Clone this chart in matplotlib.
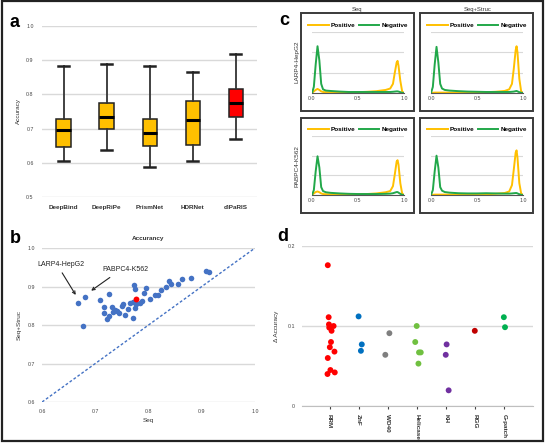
import matplotlib
matplotlib.use("Agg")
import matplotlib.pyplot as plt
from matplotlib.patches import Rectangle
from matplotlib.ticker import FormatStrFormatter

plt.rcParams['font.family'] = ['Liberation Sans', 'DejaVu Sans']

# ---- panel a: box stats ----
models = ['DeepBind', 'DeepRiPe', 'PrismNet', 'HDRNet', 'diPaRIS']
whis_hi = [0.883, 0.888, 0.882, 0.866, 0.918]
q3 = [0.727, 0.775, 0.729, 0.780, 0.817]
med = [0.696, 0.735, 0.688, 0.724, 0.776]
q1 = [0.647, 0.700, 0.648, 0.653, 0.735]
whis_lo = [0.604, 0.637, 0.588, 0.605, 0.670]
box_colors = ['#FFC000', '#FFC000', '#FFC000', '#FFC000', '#FF0000']

# ---- panel b: Seq vs Seq+Struc accuracy ----
seq_acc = [0.668, 0.681, 0.676, 0.709, 0.716, 0.716, 0.726, 0.722, 0.725, 0.732,
           0.734, 0.737, 0.741, 0.745, 0.750, 0.752, 0.755, 0.762, 0.765, 0.770,
           0.772, 0.774, 0.771, 0.774, 0.777, 0.784, 0.787, 0.791, 0.796, 0.803,
           0.812, 0.817, 0.824, 0.833, 0.838, 0.843, 0.855, 0.863, 0.879, 0.908,
           0.914]
struc_acc = [0.857, 0.874, 0.798, 0.865, 0.848, 0.831, 0.880, 0.816, 0.824, 0.848,
             0.833, 0.840, 0.836, 0.831, 0.850, 0.855, 0.825, 0.842, 0.856, 0.859,
             0.904, 0.894, 0.817, 0.843, 0.855, 0.857, 0.862, 0.883, 0.895, 0.868,
             0.878, 0.878, 0.890, 0.898, 0.914, 0.907, 0.906, 0.919, 0.922, 0.940,
             0.937]
dipa_seq, dipa_struc = 0.776, 0.868

# ---- panel c: score densities ----
dens_x = [0.0, 0.02, 0.04, 0.06, 0.08, 0.10, 0.12, 0.15, 0.2, 0.3, 0.4, 0.5,
          0.6, 0.7, 0.8, 0.85, 0.88, 0.90, 0.92, 0.93, 0.94, 0.96, 0.98, 1.0]
larp_seq_neg = [0, 0.3, 1.4, 2.3, 1.6, 0.45, 0.18, 0.12, 0.1, 0.07, 0.05, 0.05,
                0.05, 0.05, 0.05, 0.05, 0.06, 0.07, 0.08, 0.08, 0.07, 0.04, 0.01, 0]
larp_seq_pos = [0, 0.08, 0.15, 0.2, 0.15, 0.08, 0.05, 0.04, 0.03, 0.03, 0.03, 0.04,
                0.06, 0.09, 0.15, 0.22, 0.45, 1.0, 1.5, 1.58, 1.35, 0.6, 0.08, 0]
larp_str_neg = [0, 0.3, 1.4, 2.27, 1.5, 0.45, 0.22, 0.15, 0.12, 0.09, 0.07, 0.06,
                0.05, 0.05, 0.05, 0.05, 0.06, 0.07, 0.09, 0.1, 0.08, 0.04, 0.01, 0]
larp_str_pos = [0, 0.01, 0.02, 0.02, 0.02, 0.02, 0.02, 0.02, 0.02, 0.02, 0.03, 0.03,
                0.04, 0.06, 0.1, 0.18, 0.45, 1.2, 2.1, 2.3, 2.0, 0.7, 0.08, 0]
pab_seq_neg = [0, 0.25, 1.2, 1.97, 1.4, 0.4, 0.2, 0.14, 0.11, 0.08, 0.06, 0.05,
               0.05, 0.05, 0.06, 0.07, 0.09, 0.12, 0.15, 0.15, 0.12, 0.06, 0.01, 0]
pab_seq_pos = [0, 0.08, 0.15, 0.18, 0.14, 0.08, 0.05, 0.04, 0.03, 0.03, 0.03, 0.04,
               0.05, 0.08, 0.14, 0.2, 0.45, 1.05, 1.7, 1.77, 1.55, 0.6, 0.08, 0]
pab_str_neg = [0, 0.25, 1.2, 2.0, 1.4, 0.4, 0.22, 0.15, 0.12, 0.09, 0.08, 0.08,
               0.09, 0.08, 0.07, 0.07, 0.08, 0.09, 0.1, 0.1, 0.08, 0.04, 0.01, 0]
pab_str_pos = [0, 0.01, 0.02, 0.02, 0.02, 0.02, 0.02, 0.02, 0.02, 0.02, 0.03, 0.03,
               0.04, 0.06, 0.1, 0.18, 0.5, 1.3, 2.15, 2.27, 1.9, 0.6, 0.08, 0]

# ---- panel d: delta accuracy by domain ----
domains = ['RRM', 'ZnF', 'WD40', 'Helicase', 'KH', 'RGG', 'G-patch']
dom_colors = ['#FF0000', '#0070C0', '#7F7F7F', '#70C040', '#7030A0', '#C00000', '#00B050']
dom_idx = [0] * 13 + [1] * 3 + [2] * 2 + [3] * 5 + [4] * 3 + [5] + [6] * 2
dom_jit = [-0.06, -0.03, -0.02, 0.14, -0.01, 0.07, 0.05, 0.01, 0.17, -0.06, 0.03, 0.18, -0.07,
           0.0, 0.11, 0.08,
           0.06, -0.08,
           0.0, -0.05, 0.08, 0.14, 0.06,
           0.03, 0.0, 0.10,
           0.0,
           0.0, 0.04]
dom_delta = [0.176, 0.111, 0.102, 0.100, 0.098, 0.094, 0.080, 0.0735, 0.068, 0.060, 0.045, 0.042, 0.040,
             0.112, 0.077, 0.069,
             0.091, 0.064,
             0.100, 0.080, 0.067, 0.067, 0.053,
             0.077, 0.064, 0.0196,
             0.094,
             0.111, 0.0985]

fig = plt.figure(figsize=(5.46, 4.45), dpi=100)
fig.add_artist(Rectangle((0.004, 0.009), 0.99, 0.988, transform=fig.transFigure,
                         fill=False, lw=1.6, ec='#222222'))

grid_c = '#D9D9D9'
tick_fs = 3.8

# panel a
ax = fig.add_axes([0.077, 0.557, 0.394, 0.385])
stats = []
for i in range(len(models)):
    stats.append(dict(med=med[i], q1=q1[i], q3=q3[i], whislo=whis_lo[i],
                      whishi=whis_hi[i], fliers=[]))
bp = ax.bxp(stats, positions=range(1, 6), widths=0.33, capwidths=0.27,
            patch_artist=True, showfliers=False,
            boxprops=dict(lw=1.1, ec='#222222'),
            whiskerprops=dict(lw=1.3, color='#333333'),
            capprops=dict(lw=1.8, color='#222222'),
            medianprops=dict(lw=2.2, color='black'))
for patch, c in zip(bp['boxes'], box_colors):
    patch.set_facecolor(c)
ax.set_xlim(0.5, 5.5)
ax.set_ylim(0.5, 1.0)
ax.set_yticks([0.5, 0.6, 0.7, 0.8, 0.9, 1.0])
ax.yaxis.set_major_formatter(FormatStrFormatter('%.1f'))
ax.grid(axis='y', color=grid_c, lw=1)
ax.set_axisbelow(True)
for s in ax.spines.values():
    s.set_visible(False)
ax.tick_params(length=0, labelsize=tick_fs, colors='#444444', pad=6)
ax.set_xticks(range(1, 6))
ax.set_xticklabels(models, fontsize=4.6, fontweight='bold', color='#333333')
ax.set_ylabel('Accuracy', fontsize=4.6, color='#333333', labelpad=4)
fig.text(0.018, 0.95, 'a', fontsize=13, fontweight='bold', va='center')

# panel b
ax = fig.add_axes([0.077, 0.0966, 0.390, 0.346])
ax.plot([0.6, 1.0], [0.6, 1.0], ls=(0, (2, 1.5)), color='#4472C4', lw=1)
ax.scatter(seq_acc, struc_acc, s=16, color='#4472C4', zorder=3, lw=0)
ax.scatter([dipa_seq], [dipa_struc], s=18, color='#FF0000', zorder=4, lw=0)
ax.set_xlim(0.6, 1.0)
ax.set_ylim(0.6, 1.0)
ax.set_xticks([0.6, 0.7, 0.8, 0.9, 1.0])
ax.set_yticks([0.6, 0.7, 0.8, 0.9, 1.0])
ax.xaxis.set_major_formatter(FormatStrFormatter('%.1f'))
ax.yaxis.set_major_formatter(FormatStrFormatter('%.1f'))
ax.grid(axis='y', color=grid_c, lw=1)
ax.set_axisbelow(True)
for s in ax.spines.values():
    s.set_visible(False)
ax.tick_params(length=0, labelsize=tick_fs, colors='#444444', pad=5)
ax.set_xlabel('Seq', fontsize=4.6, color='#333333', labelpad=3)
ax.set_ylabel('Seq+Struc', fontsize=4.6, color='#333333', labelpad=4)
ax.set_title('Accurancy', fontsize=4.6, fontweight='bold', color='#333333', pad=6)
ax.annotate('LARP4-HepG2', xy=(0.666, 0.872), xytext=(0.592, 0.958),
            fontsize=5, color='#222222', ha='left', va='center',
            annotation_clip=False,
            arrowprops=dict(arrowstyle='->', color='#222222', lw=0.8,
                            shrinkA=2, relpos=(0.45, 0.0)))
ax.annotate('PABPC4-K562', xy=(0.688, 0.885), xytext=(0.713, 0.944),
            fontsize=5, color='#222222', ha='left', va='center',
            arrowprops=dict(arrowstyle='->', color='#222222', lw=0.8,
                            shrinkA=2, relpos=(0.3, 0.0)))
fig.text(0.018, 0.465, 'b', fontsize=13, fontweight='bold', va='center')

# panel c
yel, grn = '#FFC000', '#22A84A'
curves = [[larp_seq_pos, larp_seq_neg], [larp_str_pos, larp_str_neg],
          [pab_seq_pos, pab_seq_neg], [pab_str_pos, pab_str_neg]]
box_x = [301, 420]
box_y = [13, 118]
box_h = [98, 95]
inner_x = [312, 431]
inner_base = [93, 195]
inner_h = [61, 59]
k = 0
for r in range(2):
    for c in range(2):
        x0, y0 = box_x[c], box_y[r]
        fig.add_artist(Rectangle((x0 / 546, 1 - (y0 + box_h[r]) / 445), 113 / 546,
                                 box_h[r] / 445, transform=fig.transFigure,
                                 fill=False, lw=1.4, ec='#3A3A3A'))
        ax = fig.add_axes([inner_x[c] / 546, 1 - inner_base[r] / 445, 92 / 546,
                           inner_h[r] / 445])
        pos, neg = curves[k]
        ax.plot(dens_x, pos, color=yel, lw=1.4, label='Positive')
        ax.plot(dens_x, neg, color=grn, lw=1.4, label='Negative')
        ax.set_xlim(0, 1)
        ax.set_ylim(0, 3)
        ax.set_yticks([1, 2, 3])
        ax.set_yticklabels([])
        ax.set_xticks([0, 0.5, 1.0])
        ax.xaxis.set_major_formatter(FormatStrFormatter('%.1f'))
        ax.grid(axis='y', color=grid_c, lw=0.8)
        ax.set_axisbelow(True)
        for s in ['top', 'right', 'left']:
            ax.spines[s].set_visible(False)
        ax.spines['bottom'].set_color('#555555')
        ax.spines['bottom'].set_linewidth(0.8)
        ax.tick_params(length=0, labelsize=tick_fs, colors='#444444', pad=2)
        ax.legend(loc='lower center', bbox_to_anchor=(0.5, 1.02), ncol=2,
                  frameon=False, handlelength=3.2, columnspacing=0.6,
                  handletextpad=0.3, borderaxespad=0,
                  prop=dict(size=4.6, weight='bold'))
        k += 1
fig.text(357 / 546, 1 - 10 / 445, 'Seq', fontsize=4.2, ha='center', va='center',
         color='#333333')
fig.text(478 / 546, 1 - 10 / 445, 'Seq+Struc', fontsize=4.2, ha='center',
         va='center', color='#333333')
fig.text(297 / 546, 1 - 62 / 445, 'LARP4-HepG2', fontsize=4.6, rotation=90,
         ha='center', va='center', color='#333333')
fig.text(297 / 546, 1 - 166 / 445, 'PABPC4-K562', fontsize=4.6, rotation=90,
         ha='center', va='center', color='#333333')
fig.text(0.512, 0.955, 'c', fontsize=13, fontweight='bold', va='center')

# panel d
ax = fig.add_axes([0.553, 0.0876, 0.423, 0.3596])
xs = [dom_idx[i] + dom_jit[i] for i in range(len(dom_idx))]
cols = [dom_colors[i] for i in dom_idx]
ax.scatter(xs, dom_delta, s=18, c=cols, lw=0, zorder=3)
ax.set_xlim(-0.95, 7.0)
ax.set_ylim(0, 0.2)
ax.set_yticks([0, 0.1, 0.2])
ax.set_yticklabels(['0', '0.1', '0.2'])
ax.set_xticks(range(len(domains)))
ax.set_xticklabels(domains, rotation=270, fontsize=4.6, fontweight='bold',
                   color='#333333')
ax.grid(axis='y', color=grid_c, lw=1)
ax.set_axisbelow(True)
for s in ['top', 'right', 'left']:
    ax.spines[s].set_visible(False)
ax.spines['bottom'].set_color('#BFBFBF')
ax.tick_params(axis='x', length=2, color='#BFBFBF', pad=4)
ax.tick_params(axis='y', length=0, pad=5)
ax.tick_params(labelsize=tick_fs, colors='#444444')
for lab in ax.get_xticklabels():
    lab.set_fontsize(4.6)
    lab.set_color('#333333')
ax.set_ylabel('Δ Accuracy', fontsize=4.6, color='#333333', labelpad=6)
fig.text(0.508, 0.468, 'd', fontsize=13, fontweight='bold', va='center')

fig.savefig('out.png', dpi=100)
